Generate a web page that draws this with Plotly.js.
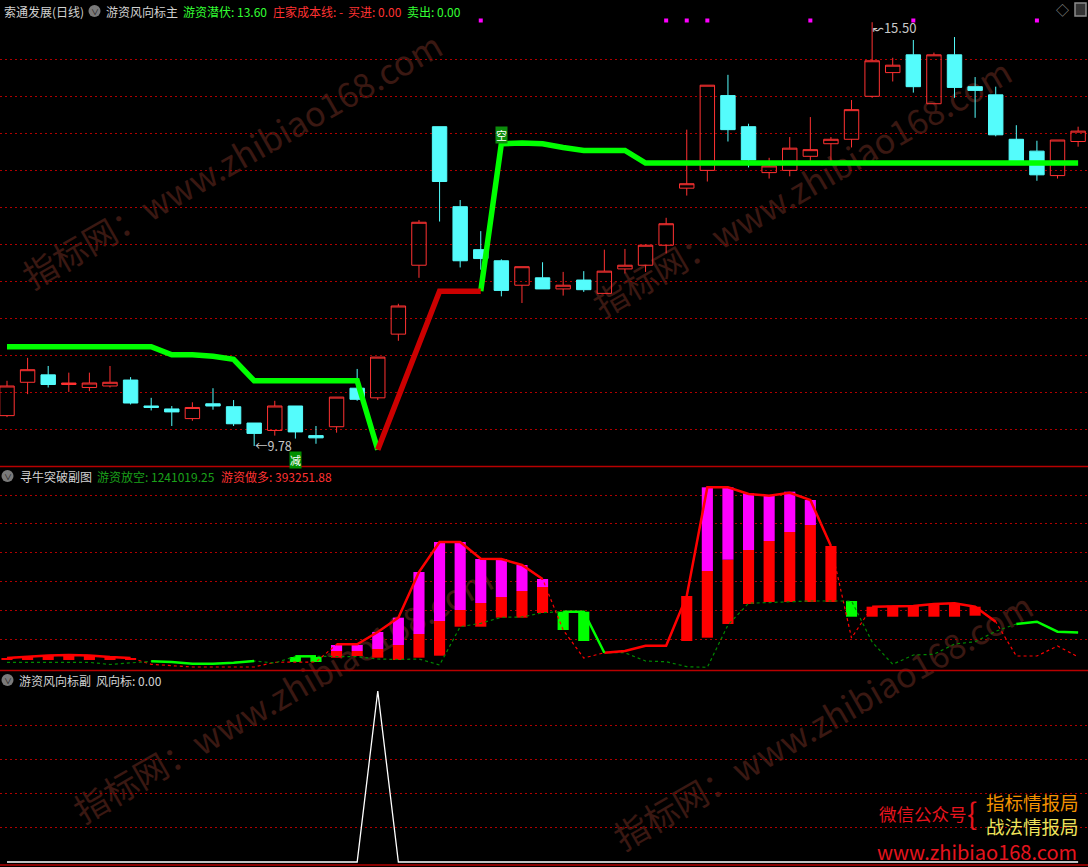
<!DOCTYPE html>
<html><head><meta charset="utf-8">
<script src="https://cdn.plot.ly/plotly-3.0.1.min.js"></script>
<style>html,body{margin:0;padding:0;background:#000;}#chart{width:1088px;height:867px;}</style>
</head><body><div id="chart"></div>
<script>
// ---------- DATA ----------
const stockName = '索通发展(日线)';
const open  = [10.19,10.64,10.74,10.61,10.57,10.59,10.67,10.32,10.28,10.15,10.35,10.31,10.09,9.99,10.32,9.92,10.04,10.56,10.43,11.29,12.22,14.09,13.01,12.43,12.28,11.95,12.05,11.90,12.02,11.84,12.17,12.22,12.49,13.26,13.50,14.51,14.09,13.47,13.50,13.69,13.86,13.92,14.50,14.82,15.06,14.40,15.06,14.63,14.52,13.92,13.76,13.43,13.89];
const high  = [10.66,10.97,10.86,10.77,10.77,10.86,10.71,10.43,10.32,10.37,10.56,10.40,10.09,10.39,10.32,10.05,10.44,10.82,10.98,11.70,12.83,14.09,13.10,12.68,12.30,12.20,12.26,12.13,12.14,12.43,12.44,12.50,12.86,14.05,14.65,14.79,14.13,13.67,13.95,14.22,13.95,14.45,15.50,15.02,15.26,15.09,15.30,14.76,14.63,14.11,13.90,13.91,14.09];
const low   = [10.17,10.48,10.57,10.51,10.52,10.57,10.34,10.26,10.05,10.12,10.27,10.05,9.78,9.92,9.88,9.81,9.96,10.39,10.40,11.20,12.05,12.81,12.19,12.16,11.80,11.71,11.90,11.81,11.86,11.84,12.11,12.13,12.38,13.16,13.35,13.89,13.54,13.39,13.42,13.60,13.62,13.81,14.48,14.70,14.55,14.40,14.48,14.21,13.96,13.60,13.36,13.39,13.82];
const close = [10.59,10.81,10.61,10.63,10.63,10.64,10.36,10.30,10.24,10.30,10.32,10.08,9.95,10.32,9.97,9.89,10.44,10.41,10.98,11.67,12.80,13.35,12.28,12.31,11.88,12.20,11.90,11.95,11.89,12.14,12.22,12.49,12.78,13.32,14.65,14.05,13.64,13.56,13.80,13.78,13.92,14.32,14.98,14.92,14.63,15.06,14.62,14.58,13.98,13.61,13.44,13.91,14.03];

// 游资潜伏 line: green phase / red phase
const lurkGreen = [11.12,11.12,11.12,11.12,11.12,11.12,11.12,11.12,11.01,11.01,10.99,10.95,10.66,10.66,10.66,10.66,10.66,10.66,9.73,null,null,null,null,11.87,13.86,13.87,13.86,13.81,13.77,13.77,13.77,13.60,13.60,13.60,13.60,13.60,13.60,13.60,13.60,13.60,13.60,13.60,13.60,13.60,13.60,13.60,13.60,13.60,13.60,13.60,13.60,13.60,13.60];
const lurkRed   = [null,null,null,null,null,null,null,null,null,null,null,null,null,null,null,null,null,null,9.73,10.44,11.15,11.87,11.87,11.87,null,null,null,null,null,null,null,null,null,null,null,null,null,null,null,null,null,null,null,null,null,null,null,null,null,null,null,null,null];

const topSignalIdx = [23,32,33,34,39,44,50];   // magenta dots
const reduceSignalIdx = [14];                   // 减
const shortSignalIdx = [24];                    // 空

// 寻牛突破副图
const longFlow  = [353000,405000,440000,457000,440000,388000,353000,135000,76000,42000,42000,42000,42000,205000,215000,215000,828000,828000,1254000,1750000,3333000,4373000,4373000,3794000,3784000,3576000,3091000,1324000,353000,537000,596000,780000,780000,2502000,6268000,6268000,6036000,5977000,6081000,5828000,4234000,1046000,2131000,2155000,2155000,2225000,2249000,2131000,1611000,423000,423000,769000,393251.88];
const shortFlow = [204000,204000,204000,204000,204000,128000,180000,239000,215000,156000,156000,191000,249000,180000,412000,412000,398000,398000,319000,301000,319000,111000,1438000,1556000,1764000,1774000,1923000,1958000,1958000,537000,537000,249000,225000,52000,31000,1497000,2249000,2283000,2304000,2328000,2328000,2328000,908000,135000,457000,482000,838000,918000,1279000,1532000,1611000,1265000,1241019.25];
const stickLow  = [284000,284000,284000,284000,284000,284000,284000,null,null,null,null,null,null,null,null,null,364000,423000,364000,284000,364000,433000,1438000,1438000,1750000,1750000,1913000,null,null,null,null,null,null,942000,1057000,1532000,2225000,2294000,2294000,2294000,2294000,null,1784000,1784000,1784000,1784000,1784000,1819000,null,null,null,null,null];
const stickMid  = [null,null,null,null,null,null,null,null,null,null,null,null,null,null,null,null,596000,596000,665000,804000,1185000,1635000,2017000,2259000,2467000,2675000,2814000,null,null,null,null,null,null,null,3368000,3760000,4096000,4407000,4719000,4962000,null,null,null,null,null,null,null,null,null,null,null,null,null];
const stickHigh = [353000,405000,440000,457000,440000,388000,353000,null,null,null,null,null,null,null,null,null,804000,804000,1254000,1750000,3333000,4373000,4373000,3784000,3784000,3576000,3091000,null,null,null,null,null,null,2502000,6268000,6268000,6060000,5977000,6116000,5828000,4234000,null,2131000,2155000,2155000,2225000,2249000,2131000,null,null,null,null,null];
const greenStickLow  = [null,null,null,null,null,null,null,null,null,null,null,null,null,null,215000,215000,null,null,null,null,null,null,null,null,null,null,null,1324000,942000,null,null,null,null,null,null,null,null,null,null,null,null,1784000,null,null,null,null,null,null,null,null,null,null,null];
const greenStickHigh = [null,null,null,null,null,null,null,null,null,null,null,null,null,null,388000,388000,null,null,null,null,null,null,null,null,null,null,null,1958000,1958000,null,null,null,null,null,null,null,null,null,null,null,null,2328000,null,null,null,null,null,null,null,null,null,null,null];

// 游资风向标副
const windVane = [0,0,0,0,0,0,0,0,0,0,0,0,0,0,0,0,0,0,100,0,0,0,0,0,0,0,0,0,0,0,0,0,0,0,0,0,0,0,0,0,0,0,0,0,0,0,0,0,0,0,0,0,0];

const mainGrid = [10,10.5,11,11.5,12,12.5,13,13.5,14,14.5,15];
const flowGrid = [1e6,2e6,3e6,4e6,5e6,6e6];
const vaneGrid = [20,40,60,80];
const WATERMARK = '指标网：www.zhibiao168.com';

// ---------- BUILD ----------
const W = 1088, H = 867;
const PX = p => p / W, PY = p => 1 - p / H;
const idx = open.map((_, i) => i);
const FONT = "'Noto Sans CJK SC','Noto Sans','DejaVu Sans',sans-serif";
const last = a => a[a.length - 1];

const longSolid  = longFlow.map((v, i) => v >= shortFlow[i] ? v : null);
const shortSolid = shortFlow.map((v, i) => v >= longFlow[i] ? v : null);
const redBase = stickLow;
const redH = stickLow.map((v, i) => v == null ? null : ((stickMid[i] != null ? stickMid[i] : stickHigh[i]) - v));
const magH = stickMid.map((v, i) => v == null ? null : stickHigh[i] - v);
const grnH = greenStickLow.map((v, i) => v == null ? null : greenStickHigh[i] - v);

const traces = [
  {type:'candlestick', x:idx, open, high, low, close, xaxis:'x', yaxis:'y', hoverinfo:'skip', whiskerwidth:0,
   line:{width:1},
   increasing:{line:{color:'#FF3232', width:1}, fillcolor:'rgba(0,0,0,0)'},
   decreasing:{line:{color:'#54FCFC', width:1}, fillcolor:'#54FCFC'}},
  {type:'scatter', mode:'lines', x:idx, y:lurkGreen, yaxis:'y', line:{color:'#00FF00', width:5.5}, hoverinfo:'skip'},
  {type:'scatter', mode:'lines', x:idx, y:lurkRed, yaxis:'y', line:{color:'#CC0000', width:5.5}, hoverinfo:'skip'},
  {type:'scatter', mode:'markers', x:topSignalIdx, y:topSignalIdx.map(() => 1 - 20.5/466), yaxis:'y4',
   marker:{symbol:'square', size:4, color:'#FF00FF'}, hoverinfo:'skip'},
  // middle panel
  {type:'bar', x:idx, y:redH, base:redBase, yaxis:'y2', width:0.54, marker:{color:'#FF0000', line:{width:0}}, hoverinfo:'skip'},
  {type:'bar', x:idx, y:magH, base:stickMid, yaxis:'y2', width:0.54, marker:{color:'#FF00FF', line:{width:0}}, hoverinfo:'skip'},
  {type:'bar', x:idx, y:grnH, base:greenStickLow, yaxis:'y2', width:0.54, marker:{color:'#00FF00', line:{width:0}}, hoverinfo:'skip'},
  {type:'scatter', mode:'lines', x:idx, y:longFlow, yaxis:'y2', line:{color:'#FF0000', width:1.2, dash:'3px,3px'}, hoverinfo:'skip'},
  {type:'scatter', mode:'lines', x:idx, y:shortFlow, yaxis:'y2', line:{color:'#008800', width:1.2, dash:'3px,3px'}, hoverinfo:'skip'},
  {type:'scatter', mode:'lines', x:idx, y:longSolid, yaxis:'y2', line:{color:'#FF0000', width:2.5}, hoverinfo:'skip'},
  {type:'scatter', mode:'lines', x:idx, y:shortSolid, yaxis:'y2', line:{color:'#00FF00', width:2.5}, hoverinfo:'skip'},
  // bottom panel
  {type:'scatter', mode:'lines', x:idx, y:windVane, yaxis:'y3', line:{color:'#FFFFFF', width:1.3}, hoverinfo:'skip'}
];

const gridAxis = (domain, range, vals) => ({domain, range, tickvals:vals, showticklabels:false, ticks:'',
  showgrid:true, gridcolor:'#B00000', gridwidth:1, griddash:'2px,3px', zeroline:false, showline:false, fixedrange:true});

const ann = [];
const txt = (text, x, y, color, size, extra) => ann.push(Object.assign({xref:'paper', yref:'paper', x:PX(x), y:PY(y),
  xanchor:'left', yanchor:'middle', showarrow:false, text, font:{family:FONT, size, color}}, extra || {}));

// headers
txt(stockName, 2, 11, '#D2D2D2', 12);
txt('游资风向标主', 103.5, 11, '#D2D2D2', 12);
txt('游资潜伏: ' + last(lurkGreen).toFixed(2), 180.5, 11, '#33FF33', 12);
txt('庄家成本线: -', 271, 11, '#FF3232', 12);
txt('买进: 0.00', 345.5, 11, '#FF3232', 12);
txt('卖出: 0.00', 404.5, 11, '#33FF33', 12);
txt('寻牛突破副图', 17.5, 476, '#D2D2D2', 12);
txt('游资放空: ' + last(shortFlow).toFixed(2), 94.5, 476, '#1AA01A', 12);
txt('游资做多: ' + last(longFlow).toFixed(2), 219, 476, '#FF3232', 12);
txt('游资风向标副', 17, 680, '#D2D2D2', 12);
txt('风向标: ' + last(windVane).toFixed(2), 94, 680, '#D2D2D2', 12);
// header icons chevrons
[[94.5, 11], [7.5, 476], [7.5, 680]].forEach(([x, y]) => txt('∨', x, y + 0.5, '#1a1a1a', 8, {xanchor:'center'}));
txt('◇', 1062, 9, '#8C8C8C', 13, {xanchor:'center'});

// bottom-right promo
txt('微信公众号', 876.5, 813.5, '#E6141E', 17.5);
txt('{', 965, 812, '#E6141E', 30);
txt('指标情报局', 984, 801.5, '#F39200', 18.5);
txt('战法情报局', 984, 826, '#EEE35A', 18.5);
txt('www.zhibiao168.com', 875, 851, '#E6141E', 20);

// price labels
const lowI = low.indexOf(Math.min(...low));
const highI = high.indexOf(Math.max(...high));
ann.push({xref:'x', yref:'y', x:lowI, y:low[lowI], xanchor:'left', yanchor:'middle', xshift:-1, yshift:1, showarrow:false,
  text:'←' + low[lowI].toFixed(2), font:{family:FONT, size:12.5, color:'#C8C8C8'}});
ann.push({xref:'x', yref:'y', x:highI, y:high[highI], xanchor:'left', yanchor:'middle', xshift:-1, yshift:-5, showarrow:false,
  text:'↜' + high[highI].toFixed(2), font:{family:FONT, size:13, color:'#C8C8C8'}});
// badges
reduceSignalIdx.forEach(i => ann.push({xref:'x', yref:'y domain', x:i, y:0.012, xanchor:'center', yanchor:'middle', showarrow:false,
  text:'减', bgcolor:'#008F00', borderpad:0, font:{family:FONT, size:11, color:'#FFFFFF'}}));
shortSignalIdx.forEach(i => ann.push({xref:'x', yref:'y', x:i, y:lurkGreen[i], yshift:9, xanchor:'center', yanchor:'middle', showarrow:false,
  text:'空', bgcolor:'#0C8C0C', borderpad:0, font:{family:FONT, size:11, color:'#FFFFFF'}}));

const shapes = [];
// watermarks (below traces)
[[22,285,446,42],[578,322,1030,60],[60,827,510,568],[595,857,1055,592]].forEach(([a,b,c,d]) => shapes.push({
  type:'line', xref:'paper', yref:'paper', x0:PX(a), y0:PY(b), x1:PX(c), y1:PY(d), layer:'below',
  line:{color:'rgba(0,0,0,0)', width:1},
  label:{text:WATERMARK, textangle:'auto', textposition:'middle', yanchor:'middle', padding:0,
         font:{family:FONT, size:34, color:'#3A1812'}}}));
// separators
[466.5, 670.5, 865].forEach(y => shapes.push({type:'line', xref:'paper', yref:'paper', x0:0, x1:1, y0:PY(y), y1:PY(y),
  line:{color:'#B80000', width:1.5}}));
// header icon circles
[[94.5, 11], [7.5, 476], [7.5, 680]].forEach(([x, y]) => shapes.push({type:'circle', xref:'paper', yref:'paper',
  x0:PX(x-6), x1:PX(x+6), y0:PY(y+6), y1:PY(y-6), fillcolor:'#7A7A7A', line:{width:0}, layer:'below'}));
shapes.push({type:'rect', xref:'paper', yref:'paper', x0:PX(1075), x1:PX(1086), y0:PY(16), y1:PY(3),
  line:{color:'#8C8C8C', width:1.5}, fillcolor:'#333333'});

const layout = {
  width:W, height:H, margin:{l:0, r:0, t:0, b:0},
  paper_bgcolor:'#000000', plot_bgcolor:'rgba(0,0,0,0)',
  showlegend:false, hovermode:false, dragmode:false,
  boxgap:0.3, boxgroupgap:0, barmode:'overlay',
  xaxis:{domain:[0,1], range:[-0.34, 52.48], anchor:'y3', showgrid:false, zeroline:false, showticklabels:false,
         ticks:'', showline:false, rangeslider:{visible:false}, fixedrange:true},
  yaxis:  Object.assign(gridAxis([PY(466), 1], [9.510, 15.800], mainGrid), {anchor:'x'}),
  yaxis2: Object.assign(gridAxis([PY(671), PY(467)], [-97020, 6971580], flowGrid), {anchor:'x'}),
  yaxis3: Object.assign(gridAxis([PY(865), PY(671)], [-1.754, 111.7], vaneGrid), {anchor:'x'}),
  yaxis4: {overlaying:'y', range:[0,1], visible:false, fixedrange:true},
  annotations: ann, shapes
};

Plotly.newPlot('chart', traces, layout, {displayModeBar:false, staticPlot:true});
</script>
</body></html>
